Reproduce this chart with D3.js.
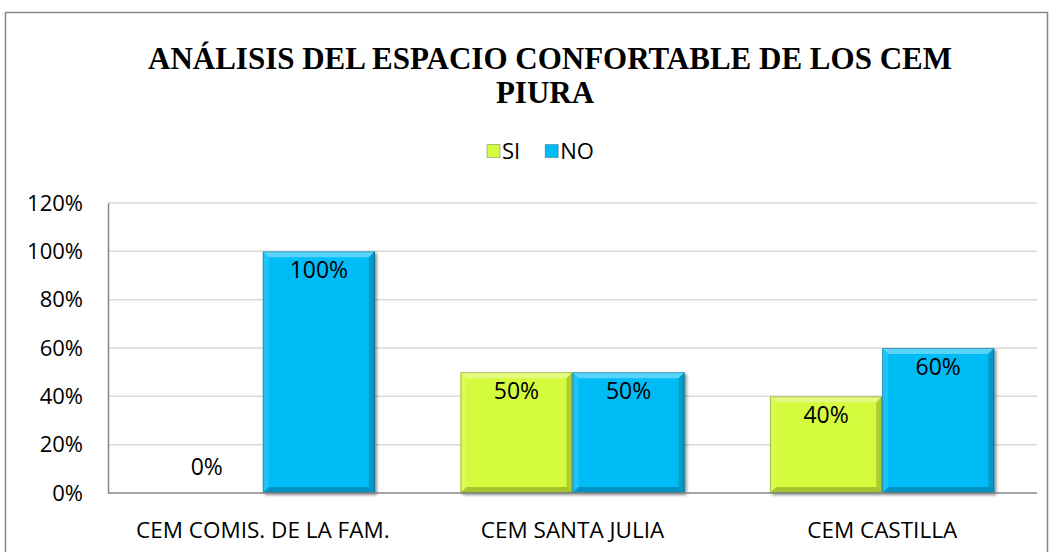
<!DOCTYPE html>
<html>
<head>
<meta charset="utf-8">
<script src="https://cdn.jsdelivr.net/npm/d3@7"></script>
<style>
  body { margin: 0; background: #fff; }
  svg { display: block; }
</style>
</head>
<body>
<svg width="1052" height="552"></svg>
<script>
// data
var categories = ['CEM COMIS. DE LA FAM.', 'CEM SANTA JULIA', 'CEM CASTILLA'];
var seriesNames = ['SI', 'NO'];
var siValues = [0, 0.5, 0.4];
var noValues = [1, 0.5, 0.6];
var yTicks = [0, 0.2, 0.4, 0.6, 0.8, 1.0, 1.2];
var seriesColors = {SI: '#d4fb3c', NO: '#00bcf6'};

var svg = d3.select('svg');
var font = '"Open Sans", Lato, sans-serif';

// outer frame
svg.append('rect')
    .attr('x', 5.5).attr('y', 12.5)
    .attr('width', 1042).attr('height', 560)
    .style('fill', 'none')
    .style('stroke', '#868686')
    .style('stroke-width', 1.5);

// title
var title = svg.append('text')
    .attr('text-anchor', 'middle')
    .style('font-family', '"Liberation Serif", "Times New Roman", serif')
    .style('font-weight', 'bold')
    .style('font-size', '31px')
    .style('fill', '#000');
title.append('tspan').attr('x', 550).attr('y', 69).text('ANÁLISIS DEL ESPACIO CONFORTABLE DE LOS CEM');
title.append('tspan').attr('x', 545).attr('y', 103).text('PIURA');

// scales
var plotLeft = 108, plotRight = 1037, plotTop = 203, plotBottom = 493;
var x0 = d3.scaleBand().domain(categories).range([plotLeft, plotRight]).paddingInner(0.276).paddingOuter(0.138);
var x1 = d3.scaleBand().domain(seriesNames).range([0, x0.bandwidth()]);
var y = d3.scaleLinear().domain([0, 1.2]).range([plotBottom, plotTop]);

// gridlines
svg.append('g').selectAll('line')
    .data(yTicks.filter(function(d) { return d > 0; }))
    .enter().append('line')
    .attr('x1', plotLeft).attr('x2', plotRight)
    .attr('y1', function(d) { return y(d); })
    .attr('y2', function(d) { return y(d); })
    .style('stroke', '#d9d9d9')
    .style('stroke-width', 1.5);

// y axis
var yAxis = d3.axisLeft(y).tickValues(yTicks).tickFormat(d3.format('.0%')).tickSize(0).tickPadding(25);
var gY = svg.append('g').attr('transform', 'translate(' + plotLeft + ',0)').call(yAxis);
gY.select('.domain').style('stroke', '#868686').style('stroke-width', 1.5);
gY.selectAll('text')
    .style('font-family', font).style('font-size', '22px').style('fill', '#000');

// bars
var rows = categories.map(function(c, i) {
    return [{cat: c, key: 'SI', value: siValues[i]}, {cat: c, key: 'NO', value: noValues[i]}];
});

var defs = svg.append('defs');
var sh = defs.append('filter').attr('id', 'shadow').attr('x', '-10%').attr('y', '-10%').attr('width', '130%').attr('height', '130%');
sh.append('feGaussianBlur').attr('in', 'SourceAlpha').attr('stdDeviation', 1.5);
sh.append('feOffset').attr('dx', 1.5).attr('dy', 1.5).attr('result', 'b');
sh.append('feComponentTransfer').append('feFuncA').attr('type', 'linear').attr('slope', 0.45);
var mrg = sh.append('feMerge');
mrg.append('feMergeNode');
mrg.append('feMergeNode').attr('in', 'SourceGraphic');

var bars = svg.append('g').selectAll('g.bar')
    .data(d3.merge(rows).filter(function(d) { return d.value > 0; }))
    .enter().append('g')
    .attr('class', 'bar')
    .style('filter', 'url(#shadow)');

function bev(d) {
    var bx = x0(d.cat) + x1(d.key), bw = x1.bandwidth();
    var by = y(d.value), bh = plotBottom - by;
    return {x: bx, y: by, w: bw, h: bh, b: 6};
}

bars.append('rect')
    .attr('x', function(d) { return bev(d).x; })
    .attr('y', function(d) { return bev(d).y; })
    .attr('width', function(d) { return bev(d).w; })
    .attr('height', function(d) { return bev(d).h; })
    .style('fill', function(d) { return seriesColors[d.key]; });

// bevel edges: top light, left slightly light, right/bottom darker
var edges = [
    {color: '#ffffff', op: 0.35, pts: function(r) { return [[r.x, r.y], [r.x + r.w, r.y], [r.x + r.w - r.b, r.y + r.b], [r.x + r.b, r.y + r.b]]; }},
    {color: '#ffffff', op: 0.12, pts: function(r) { return [[r.x, r.y], [r.x + r.b, r.y + r.b], [r.x + r.b, r.y + r.h - r.b], [r.x, r.y + r.h]]; }},
    {color: '#000000', op: 0.18, pts: function(r) { return [[r.x + r.w, r.y], [r.x + r.w, r.y + r.h], [r.x + r.w - r.b, r.y + r.h - r.b], [r.x + r.w - r.b, r.y + r.b]]; }},
    {color: '#000000', op: 0.22, pts: function(r) { return [[r.x, r.y + r.h], [r.x + r.w, r.y + r.h], [r.x + r.w - r.b, r.y + r.h - r.b], [r.x + r.b, r.y + r.h - r.b]]; }}
];
edges.forEach(function(e) {
    bars.append('polygon')
        .attr('points', function(d) { return e.pts(bev(d)).map(function(p) { return p.join(','); }).join(' '); })
        .style('fill', e.color)
        .style('opacity', e.op);
});
bars.append('rect')
    .attr('x', function(d) { return bev(d).x + 0.5; })
    .attr('y', function(d) { return bev(d).y + 0.5; })
    .attr('width', function(d) { return bev(d).w - 1; })
    .attr('height', function(d) { return bev(d).h - 1; })
    .style('fill', 'none')
    .style('stroke', 'rgba(0,0,0,0.25)')
    .style('stroke-width', 1);

// x axis baseline
svg.append('line')
    .attr('x1', plotLeft).attr('x2', plotRight)
    .attr('y1', plotBottom).attr('y2', plotBottom)
    .style('stroke', '#868686').style('stroke-width', 1.5);

// value labels
svg.append('g').selectAll('text')
    .data(d3.merge(rows))
    .enter().append('text')
    .attr('x', function(d) { return x0(d.cat) + x1(d.key) + x1.bandwidth() / 2; })
    .attr('y', function(d) { return d.value > 0 ? y(d.value) + 27 : y(d.value) - 18; })
    .attr('text-anchor', 'middle')
    .style('font-family', font).style('font-size', '23px').style('fill', '#000')
    .text(function(d) { return d3.format('.0%')(d.value); });

// category labels
svg.append('g').selectAll('text')
    .data(categories)
    .enter().append('text')
    .attr('x', function(d) { return x0(d) + x0.bandwidth() / 2; })
    .attr('y', 538)
    .attr('text-anchor', 'middle')
    .style('font-family', font).style('font-size', '22.5px').style('fill', '#000')
    .text(function(d) { return d; });

// legend
var legend = svg.append('g').attr('transform', 'translate(487,151)');
var lx = 0;
seriesNames.forEach(function(s) {
    var g = legend.append('g').attr('transform', 'translate(' + lx + ',0)');
    g.append('rect').attr('x', 0).attr('y', -6.5).attr('width', 13).attr('height', 13)
        .style('fill', seriesColors[s]).style('stroke', 'rgba(0,0,0,0.25)');
    var t = g.append('text').attr('x', 15).attr('y', 8)
        .style('font-family', font).style('font-size', '22px').style('fill', '#000')
        .text(s);
    lx += 15 + t.node().getComputedTextLength() + 25;
});
</script>
</body>
</html>
